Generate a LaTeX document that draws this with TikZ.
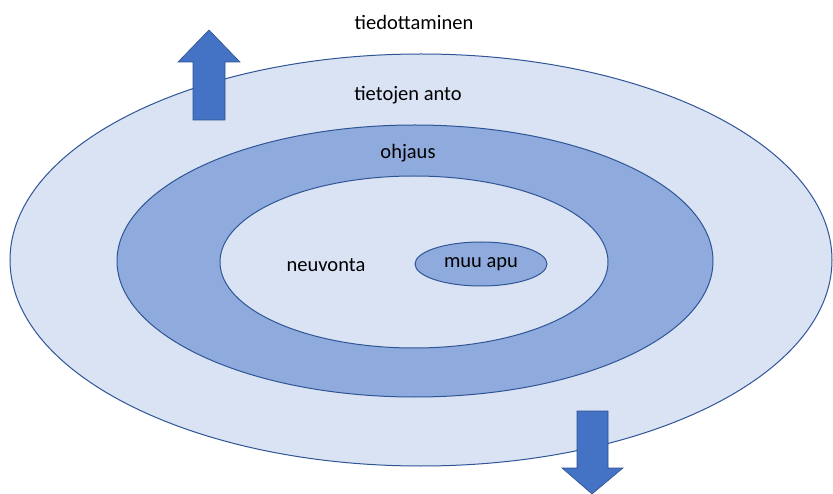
\documentclass[tikz,border=0pt]{standalone}
\usepackage{fontspec}
\setmainfont{Carlito}
\definecolor{ringlight}{HTML}{DAE3F3}
\definecolor{ringdark}{HTML}{8FAADC}
\definecolor{ringline}{HTML}{2F5597}
\definecolor{arrowfill}{HTML}{4472C4}
\definecolor{arrowline}{HTML}{2F528F}
\tikzset{
  ring/.style={draw=ringline, line width=1pt},
  bigarrow/.style={fill=arrowfill, draw=arrowline, line width=0.6pt, line join=miter},
  lbl/.style={font=\fontsize{20.5}{24}\selectfont, inner sep=0pt}
}
\begin{document}
\begin{tikzpicture}[x=1pt,y=-1pt]
	% frame
	\useasboundingbox (0,0) rectangle (833,494);
	\clip (0,0) rectangle (833,494);
	% rings
	\draw[ring, fill=ringlight] (421,260) ellipse [x radius=411, y radius=206];
	\draw[ring, fill=ringdark] (415,261) ellipse [x radius=298, y radius=136];
	\draw[ring, fill=ringlight] (414,262) ellipse [x radius=194, y radius=86];
	\draw[ring, fill=ringdark] (481,264) ellipse [x radius=66, y radius=22];
	% arrows
	\draw[bigarrow] (193,120) -- (193,62) -- (178,62) -- (209,30) -- (240,62) -- (225,62) -- (225,120) -- cycle;
	\draw[bigarrow] (577,411) -- (577,468) -- (562,468) -- (592,494) -- (623,468) -- (608,468) -- (608,411) -- cycle;
	% texts
	\node[lbl] (tiedottaminen) at (414,22) {tiedottaminen};
	\node[lbl] (anto) at (408,95) {tietojen anto};
	\node[lbl] (ohjaus) at (408,153) {ohjaus};
	\node[lbl] (neuvonta) at (326,265) {neuvonta};
	\node[lbl] (muuapu) at (481,264) {muu apu};
\end{tikzpicture}
\end{document}
